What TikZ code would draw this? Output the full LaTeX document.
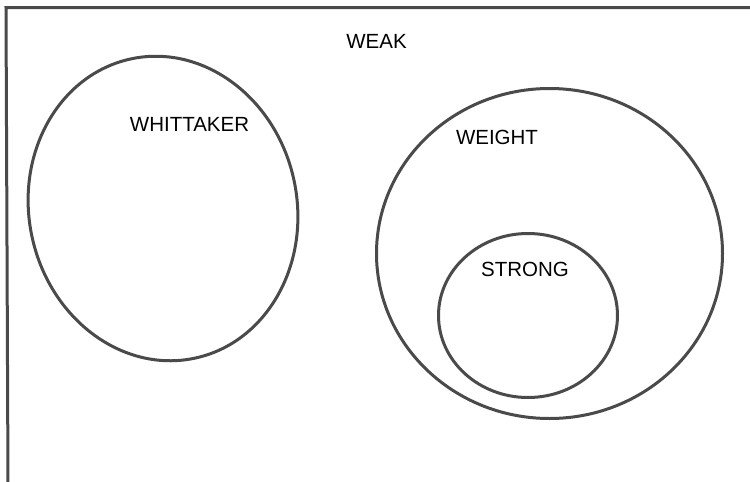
\documentclass[tikz,border=0pt]{standalone}
\usepackage{fontspec}
\setmainfont{Liberation Sans}
\usetikzlibrary{shapes.geometric}
\definecolor{linegray}{HTML}{4A4A4A}
\tikzset{
  setbox/.style={draw=linegray, line width=3pt, ellipse, inner sep=0pt, fill=none},
  setlabel/.style={anchor=base, inner sep=0pt, text=black, font=\fontsize{20.5}{24}\selectfont},
  frameline/.style={draw=linegray, line width=3pt}
}
\begin{document}
\begin{tikzpicture}[x=1pt,y=-1pt]
\useasboundingbox (0,0) rectangle (750,482);
% frame
\coordinate (tr) at (751,7.5);
\coordinate (tl) at (6,7.5);
\coordinate (bl) at (8,484);
\draw[frameline] (bl) -- (tl) -- (tr);
% sets
\node[setbox, minimum width=268pt, minimum height=306pt, rotate=12] (whit) at (163,208.5) {};
\node[setbox, minimum width=346pt, minimum height=330pt] (weight) at (549.5,253.5) {};
\node[setbox, minimum width=179pt, minimum height=164pt] (strong) at (528,315.5) {};
% labels
\node[setlabel] (weak) at (376.5,48.5) {WEAK};
\node[setlabel] (whitl) at (189.5,131.5) {WHITTAKER};
\node[setlabel] (weightl) at (497,144.5) {WEIGHT};
\node[setlabel] (strongl) at (525,276.5) {STRONG};
\end{tikzpicture}
\end{document}
